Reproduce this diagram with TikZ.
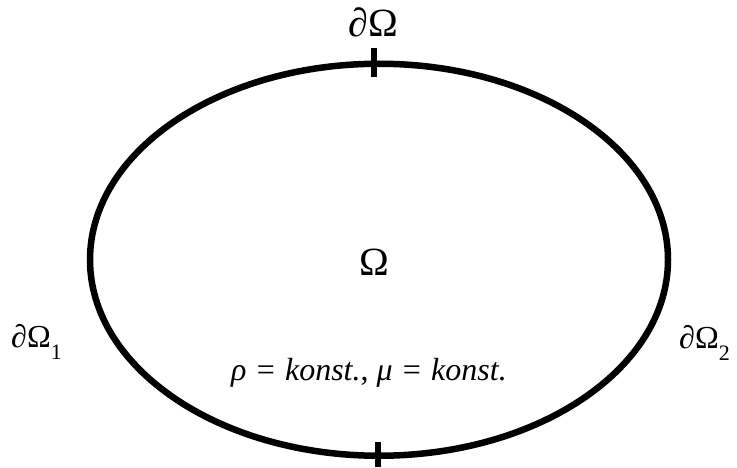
\documentclass[tikz,border=0pt]{standalone}
\usepackage{fontspec}
\setmainfont{Liberation Serif}
\usetikzlibrary{shapes.geometric}
\tikzset{
  regionshape/.style={ellipse, draw, line width=6.5pt, inner sep=0pt, outer sep=0pt,
    minimum width=578pt, minimum height=392pt},
  tickmark/.style={line width=6pt},
  biglbl/.style={inner sep=0pt, anchor=base, font=\fontsize{40}{44}\selectfont},
  sidelbl/.style={inner sep=0pt, anchor=base west, font=\fontsize{32}{36}\selectfont},
  eqlbl/.style={inner sep=0pt, anchor=base west, font=\fontsize{32}{36}\selectfont}
}
\newcommand{\mysub}[1]{\raisebox{-0.4em}{\fontsize{22}{24}\selectfont #1}}
\newcommand{\myeq}{\hspace{0.32em}=\hspace{0.32em}}
\begin{document}
\begin{tikzpicture}[x=1pt,y=-1pt]
\useasboundingbox (0,0) rectangle (737,468);
\node[regionshape] (dom) at (379,259.75) {};
\draw[tickmark] (374,48) -- (374,77);
\draw[tickmark] (377.5,442) -- (377.5,467);
\node[biglbl] (top) at (373,37) {∂Ω};
\node[biglbl] (omega) at (374,275) {Ω};
\node[sidelbl] (b1) at (11,347) {∂Ω\mysub{1}};
\node[sidelbl] (b2) at (679,348) {∂Ω\mysub{2}};
\node[eqlbl] (eq) at (231,380) {{\itshape ρ}\myeq{\itshape konst.}, {\itshape μ}\myeq{\itshape konst.}};
\end{tikzpicture}
\end{document}
